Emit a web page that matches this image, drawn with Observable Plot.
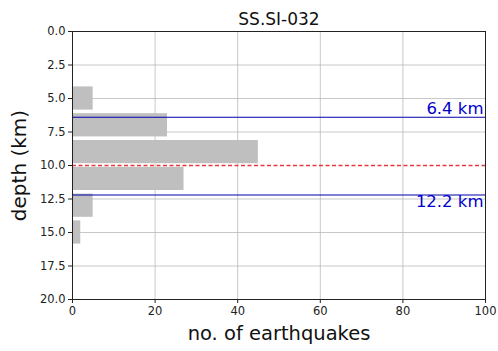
<!DOCTYPE html>
<html>
<head>
<meta charset="utf-8">
<script src="https://cdn.jsdelivr.net/npm/d3@7"></script>
<script src="https://cdn.jsdelivr.net/npm/@observablehq/plot@0.6"></script>
<style>
  html, body { margin: 0; padding: 0; background: #fff; }
  svg { font-family: "DejaVu Sans", sans-serif; }
</style>
</head>
<body>
<div id="chart"></div>
<script>
// Depth histogram for station SS.SI-032: 2 km bins, counts per bin
const binStart = [4, 6, 8, 10, 12, 14];
const binEnd   = [6, 8, 10, 12, 14, 16];
const counts   = [5, 23, 45, 27, 5, 2];

// Reference depths (km)
const bandDepths = [6.4, 12.2];
const bandLabels = ["6.4 km", "12.2 km"];
const medianDepth = [10.0];

const xTicks = [0, 20, 40, 60, 80, 100];
const yTicks = [0, 2.5, 5, 7.5, 10, 12.5, 15, 17.5, 20];

const bins = binStart.map((s, i) => ({y1: s, y2: binEnd[i], n: counts[i]}));
const bands = bandDepths.map((d, i) => ({d, label: bandLabels[i]}));

const chart = Plot.plot({
  width: 498,
  height: 351,
  marginLeft: 72,
  marginRight: 13,
  marginTop: 31,
  marginBottom: 52,
  style: {fontFamily: "DejaVu Sans, sans-serif", fontSize: "11.5px", color: "#222"},
  x: {domain: [0, 100], ticks: xTicks, label: null, tickSize: 4, grid: false},
  y: {domain: [0, 20], reverse: true, ticks: yTicks, label: null, tickFormat: d3.format(".1f"), tickSize: 4},
  marks: [
    Plot.gridX(xTicks, {stroke: "#b0b0b0", strokeOpacity: 0.7, strokeWidth: 1}),
    Plot.gridY(yTicks.filter(t => !medianDepth.includes(t)), {stroke: "#b0b0b0", strokeOpacity: 0.7, strokeWidth: 1}),
    Plot.rectX(bins, {x1: 0, x2: "n", y1: "y1", y2: "y2", fill: "#bfbfbf", insetTop: 1.8, insetBottom: 1.8}),
    Plot.ruleY(medianDepth, {stroke: "#e8383d", strokeOpacity: 1, strokeDasharray: "4 2.5", strokeWidth: 1.3}),
    Plot.ruleY(bands, {y: "d", stroke: "#0000aa", strokeWidth: 1.2}),
    Plot.text(bands.slice(0, 1), {y: "d", text: "label", frameAnchor: "right", textAnchor: "end", lineAnchor: "bottom", dx: -2, dy: -3, fill: "#0000cc", fontSize: 16.5}),
    Plot.text(bands.slice(1), {y: "d", text: "label", frameAnchor: "right", textAnchor: "end", lineAnchor: "top", dx: -2, dy: 0.5, fill: "#0000cc", fontSize: 16.5}),
    Plot.frame({stroke: "#222", strokeWidth: 1}),
    Plot.axisX(xTicks, {tickSize: 4, label: null, fontSize: 11.5, tickPadding: 3}),
    Plot.axisY(yTicks, {tickSize: 4, label: null, tickFormat: d3.format(".1f"), fontSize: 11.5, tickPadding: 3}),
    Plot.text(["SS.SI-032"], {frameAnchor: "top", lineAnchor: "bottom", dy: -7, fontSize: 17, fill: "#111"}),
    Plot.text(["no. of earthquakes"], {frameAnchor: "bottom", lineAnchor: "bottom", dy: 40, fontSize: 19.5, fill: "#111"}),
    Plot.text(["depth (km)"], {frameAnchor: "left", textAnchor: "middle", rotate: -90, lineAnchor: "bottom", dx: -46.5, fontSize: 20, fill: "#111"})
  ]
});
document.getElementById("chart").appendChild(chart);
</script>
</body>
</html>
